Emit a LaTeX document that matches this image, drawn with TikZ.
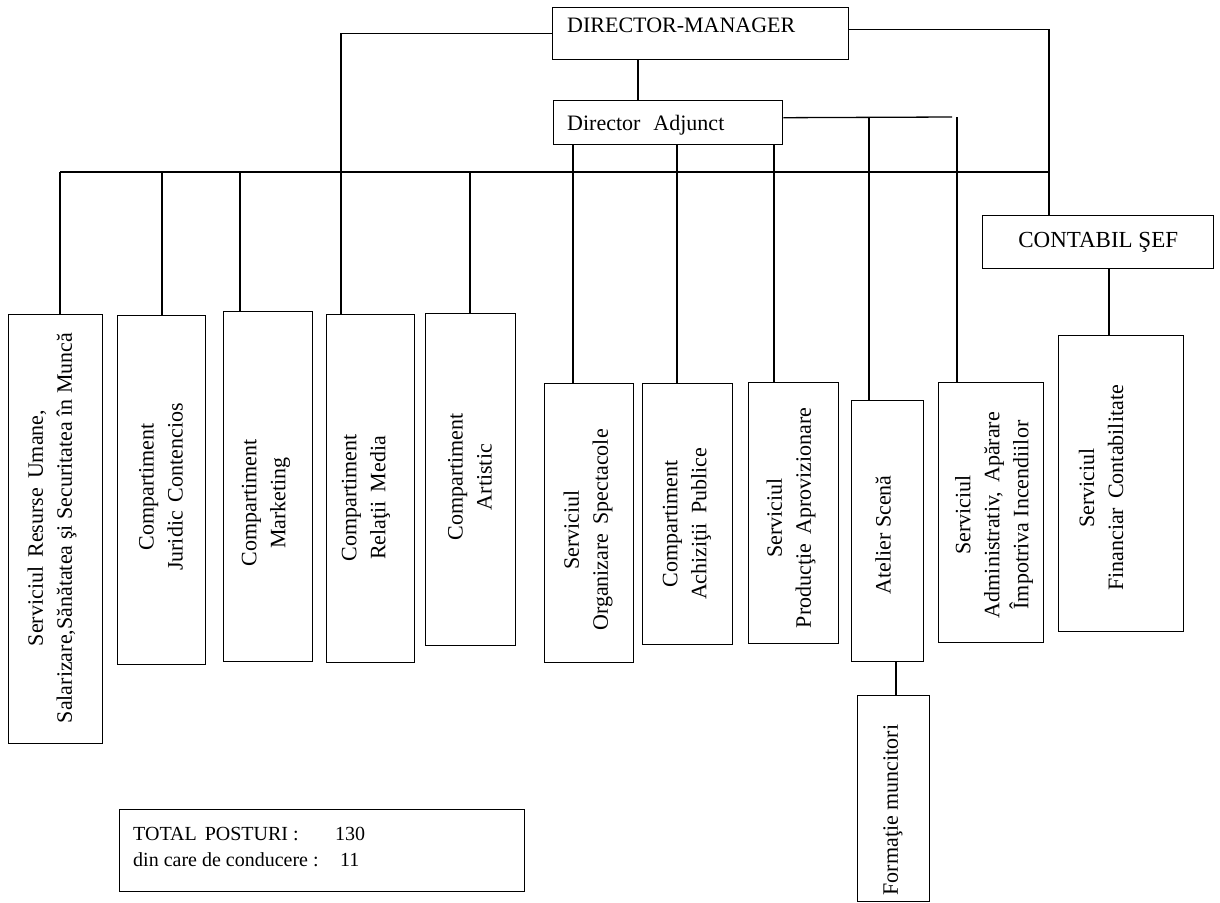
\documentclass[tikz,border=0pt]{standalone}
\usepackage{fontspec}
\setmainfont{Liberation Serif}
\begin{document}
\begin{tikzpicture}[x=1pt,y=-1pt,
  box/.style={draw, line width=1.4pt, inner sep=0pt, anchor=north west},
  conn/.style={line width=1.3pt},
  rot/.style={inner sep=0pt, font=\fontsize{22}{29}\selectfont, align=center, rotate=90},
  lbl/.style={inner sep=0pt, anchor=base west, font=\fontsize{22}{26}\selectfont},
  tot/.style={inner sep=0pt, anchor=base west, font=\fontsize{20}{26}\selectfont}]
\useasboundingbox[fill=white] (0,0) rectangle (1220,902);

% top boxes
\node[box, minimum width=296pt, minimum height=52pt] (dm) at (552,7) {};
\node[lbl] (dmt) at (567,32) {DIRECTOR-MANAGER};
\node[box, minimum width=229pt, minimum height=44pt] (da) at (553,100) {};
\node[lbl] (dat) at (567,130) {Director\hspace{13pt}Adjunct};
\node[box, minimum width=231pt, minimum height=53pt, font=\fontsize{23}{26}\selectfont] (cs) at (982,215) {CONTABIL ŞEF};

% vertical boxes
\node[box, minimum width=94pt, minimum height=429pt] (b1) at (8,314) {};
\node[box, minimum width=88pt, minimum height=349pt] (b2) at (117,315) {};
\node[box, minimum width=89pt, minimum height=350pt] (b3) at (223,311) {};
\node[box, minimum width=88pt, minimum height=348pt] (b4) at (326,314) {};
\node[box, minimum width=90pt, minimum height=332pt] (b5) at (425,313) {};
\node[box, minimum width=89pt, minimum height=279pt] (org) at (544,383) {};
\node[box, minimum width=90pt, minimum height=261pt] (ach) at (642,383) {};
\node[box, minimum width=90pt, minimum height=261pt] (prod) at (748,382) {};
\node[box, minimum width=72pt, minimum height=261pt] (atel) at (851,400) {};
\node[box, minimum width=105pt, minimum height=260pt] (adm) at (938,382) {};
\node[box, minimum width=125pt, minimum height=296pt] (fin) at (1058,335) {};
\node[box, minimum width=72pt, minimum height=206pt] (form) at (857,695) {};

% rotated texts
\node[rot] (t1) at (52,528) {Serviciul\hspace{9pt}Resurse\hspace{9pt}Umane,\\Salarizare,Sănătatea şi Securitatea în Muncă};
\node[rot] (t2) at (161,487) {Compartiment\\Juridic\hspace{9pt}Contencios};
\node[rot] (t3) at (266,503) {Compartiment\\Marketing};
\node[rot] (t4) at (366,498) {Compartiment\\Relaţii\hspace{9pt}Media};
\node[rot] (t5) at (470,477) {Compartiment\\Artistic};
\node[rot] (t6) at (588,530) {Serviciul\\Organizare\hspace{9pt}Spectacole};
\node[rot] (t7) at (687,524) {Compartiment\\Achiziţii\hspace{9pt}Publice};
\node[rot] (t8) at (791,518) {Serviciul\\Producţie\hspace{9pt}Aprovizionare};
\node[rot] (t9) at (883,535) {Atelier Scenă};
\node[rot] (t10) at (994,515) {Serviciul\\Administrativ,\hspace{9pt}Apărare\\Împotriva Incendiilor};
\node[rot] (t11) at (1101,488) {Serviciul\\Financiar\hspace{9pt}Contabilitate};
\node[rot] (t12) at (893,810) {Formaţie muncitori};

% total box
\node[box, minimum width=405pt, minimum height=82pt] (tb) at (119,809) {};
\node[tot] (tl1) at (133,840) {TOTAL\hspace{8pt}POSTURI :};
\node[tot] (tl2) at (133,866) {din care de conducere :};
\node[tot] (tn1) at (335,840) {130};
\node[tot] (tn2) at (340,866) {11};

% connectors
\coordinate (bl) at (60,172);
\coordinate (br) at (1049,172);
\coordinate (j4) at (341,172);
\coordinate (dar) at (952,117);
\draw[conn] (bl) -- (br);
\draw[conn] (dm.west) -| (j4);
\draw[conn] ([yshift=4pt]dm.east) -| (1049,0 |- cs.north);
\draw[conn] (638,0 |- dm.south) -- (638,0 |- da.north);
\draw[conn] (bl) -- (60,0 |- b1.north);
\draw[conn] (162,172) -- (162,0 |- b2.north);
\draw[conn] (240,172) -- (240,0 |- b3.north);
\draw[conn] (j4) -- (341,0 |- b4.north);
\draw[conn] (470,172) -- (470,0 |- b5.north);
\draw[conn] (573,0 |- da.south) -- (573,0 |- org.north);
\draw[conn] (677,0 |- da.south) -- (677,0 |- ach.north);
\draw[conn] (774,0 |- da.south) -- (774,0 |- prod.north);
\draw[conn] ([yshift=5pt]da.east) -- (dar);
\draw[conn] (869,117) -- (869,0 |- atel.north);
\draw[conn] (957,117) -- (957,0 |- adm.north);
\draw[conn] (1109,0 |- cs.south) -- (1109,0 |- fin.north);
\draw[conn] (896,0 |- atel.south) -- (896,0 |- form.north);
\end{tikzpicture}
\end{document}
